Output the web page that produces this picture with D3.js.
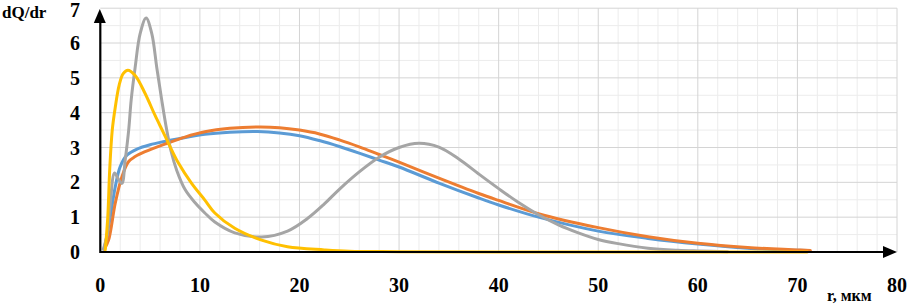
<!DOCTYPE html>
<html>
<head>
<meta charset="utf-8">
<script src="https://cdn.jsdelivr.net/npm/d3@7/dist/d3.min.js"></script>
<style>
  body { margin: 0; background: #fff; }
  svg { display: block; }
  text { font-family: "Liberation Serif", "Times New Roman", serif; font-weight: bold; fill: #000; }
</style>
</head>
<body>
<svg id="chart" width="909" height="307"></svg>
<script>
// ---- data (r in мкм, dQ/dr) ----
const xTicks = [0, 10, 20, 30, 40, 50, 60, 70, 80];
const yTicks = [0, 1, 2, 3, 4, 5, 6, 7];
const xLabel = "r, мкм";
const yLabel = "dQ/dr";

const seriesBlue = [
  [0.4, 0.08], [1.0, 1.0], [1.5, 1.87], [2.0, 2.45], [2.67, 2.78], [3.8, 2.97], [5, 3.08],
  [6.2, 3.16], [8, 3.26], [10.5, 3.38], [13, 3.44], [15.8, 3.46], [18, 3.42], [20, 3.34],
  [22, 3.2], [24, 3.03], [26, 2.84], [28, 2.64], [30, 2.44], [34, 1.98], [38, 1.55],
  [40, 1.35], [44, 1.0], [50, 0.6], [55, 0.39], [60, 0.23], [65, 0.11], [70, 0.05], [71, 0.04]
];
const seriesOrange = [
  [0.4, 0.08], [0.83, 0.34], [1.5, 1.4], [2.17, 2.16], [2.83, 2.59], [3.5, 2.74], [4.5, 2.88],
  [6.8, 3.13], [8.5, 3.3], [10.5, 3.45], [13, 3.55], [15.8, 3.59], [18, 3.57], [20, 3.5],
  [22, 3.39], [24, 3.22], [26, 3.02], [28, 2.8], [30, 2.58], [34, 2.12], [38, 1.68],
  [40, 1.48], [44, 1.1], [50, 0.7], [55, 0.44], [60, 0.25], [65, 0.13], [70, 0.06], [71.3, 0.04]
];
const seriesGray = [
  [0.3, 0.08], [0.7, 0.5], [1.0, 1.4], [1.43, 2.27], [1.8, 2.1], [2.17, 1.97], [2.5, 2.64],
  [2.85, 3.5], [3.1, 4.36], [3.5, 5.3], [4.0, 6.27], [4.6, 6.72], [5.17, 6.27], [5.67, 5.3],
  [6.17, 4.36], [6.67, 3.5], [7.1, 2.9], [7.67, 2.35], [8.5, 1.8], [9.5, 1.42], [10.5, 1.12],
  [11.5, 0.86], [13.5, 0.55], [16.2, 0.43], [18.8, 0.6], [20.8, 0.96], [22.5, 1.38], [24, 1.8],
  [26, 2.3], [28, 2.72], [30, 3.0], [32, 3.12], [34, 3.01], [36, 2.67], [38, 2.24], [40, 1.82],
  [42, 1.42], [44, 1.07], [46, 0.78], [48, 0.55], [50, 0.36], [52, 0.24], [55, 0.11], [58, 0.05],
  [60, 0.03], [63, 0.01]
];
const seriesYellow = [
  [0.5, 0.06], [0.75, 1.0], [0.95, 2.4], [1.2, 3.5], [1.5, 4.15], [1.9, 4.8], [2.3, 5.12], [2.77, 5.22],
  [3.5, 5.07], [4.5, 4.55], [5.5, 3.92], [6.3, 3.45], [6.83, 3.13], [7.83, 2.56], [9.17, 1.97],
  [10.5, 1.49], [11.5, 1.12], [13.5, 0.68], [16.2, 0.34], [18.8, 0.15], [22.5, 0.06], [25, 0.02],
  [30, 0.01], [40, 0.0], [71, 0.0]
];
const seriesColors = ["#5B9BD5", "#ED7D31", "#A5A5A5", "#FFC000"];
const seriesList = [seriesBlue, seriesOrange, seriesGray, seriesYellow];

// ---- layout ----
const svg = d3.select("#chart");
const x = d3.scaleLinear().domain([0, 80]).range([100.3, 897]);
const y = d3.scaleLinear().domain([0, 7]).range([252, 8.2]);

// gridlines
const grid = svg.append("g");
const minorX = d3.range(0, 80.01, 2).filter(v => v % 10 !== 0);
const minorY = d3.range(0.5, 7, 1);
grid.selectAll(".mx").data(minorX).enter().append("line")
  .attr("x1", d => x(d)).attr("x2", d => x(d)).attr("y1", y(7)).attr("y2", y(0))
  .attr("stroke", "#ececec").attr("stroke-width", 1);
grid.selectAll(".my").data(minorY).enter().append("line")
  .attr("x1", x(0)).attr("x2", x(80)).attr("y1", d => y(d)).attr("y2", d => y(d))
  .attr("stroke", "#ececec").attr("stroke-width", 1);
grid.selectAll(".Mx").data(xTicks.slice(1)).enter().append("line")
  .attr("x1", d => x(d)).attr("x2", d => x(d)).attr("y1", y(7)).attr("y2", y(0))
  .attr("stroke", "#d4d4d4").attr("stroke-width", 1);
grid.selectAll(".My").data(yTicks.slice(1)).enter().append("line")
  .attr("x1", x(0)).attr("x2", x(80)).attr("y1", d => y(d)).attr("y2", d => y(d))
  .attr("stroke", "#d4d4d4").attr("stroke-width", 1);

// series
const line = d3.line().x(d => x(d[0])).y(d => y(Math.max(0, d[1]))).curve(d3.curveCatmullRom.alpha(0.5));
svg.append("g").selectAll("path").data(seriesList).enter().append("path")
  .attr("d", d => line(d))
  .attr("fill", "none")
  .attr("stroke", (d, i) => seriesColors[i])
  .attr("stroke-width", 3)
  .attr("stroke-linejoin", "round")
  .attr("stroke-linecap", "round");

// axes
const ax = svg.append("g");
ax.append("line").attr("x1", x(0)).attr("x2", x(80) - 12).attr("y1", y(0)).attr("y2", y(0))
  .attr("stroke", "#000").attr("stroke-width", 2.2);
ax.append("path")
  .attr("d", `M${x(80)},${y(0)} L${x(80) - 14},${y(0) - 6} L${x(80) - 14},${y(0) + 6} Z`)
  .attr("fill", "#000");
ax.append("line").attr("x1", x(0)).attr("x2", x(0)).attr("y1", y(0) + 1).attr("y2", 20)
  .attr("stroke", "#000").attr("stroke-width", 2.2);
ax.append("path")
  .attr("d", `M${x(0) - 0.5},9 L${x(0) - 6.5},23 L${x(0) + 5.5},23 Z`)
  .attr("fill", "#000");

// tick labels
svg.append("g").selectAll("text").data(yTicks).enter().append("text")
  .attr("x", 80).attr("y", d => y(d) + 7 + (d === 7 ? 2 : 0))
  .attr("text-anchor", "end").attr("font-size", 20)
  .text(d => d);
svg.append("g").selectAll("text").data(xTicks).enter().append("text")
  .attr("x", d => x(d)).attr("y", 292)
  .attr("text-anchor", "middle").attr("font-size", 20)
  .text(d => d);

// axis titles
svg.append("text").attr("x", 2).attr("y", 18).attr("font-size", 17).text(yLabel);
svg.append("text").attr("x", 827).attr("y", 301).attr("font-size", 16).text(xLabel);
</script>
</body>
</html>
